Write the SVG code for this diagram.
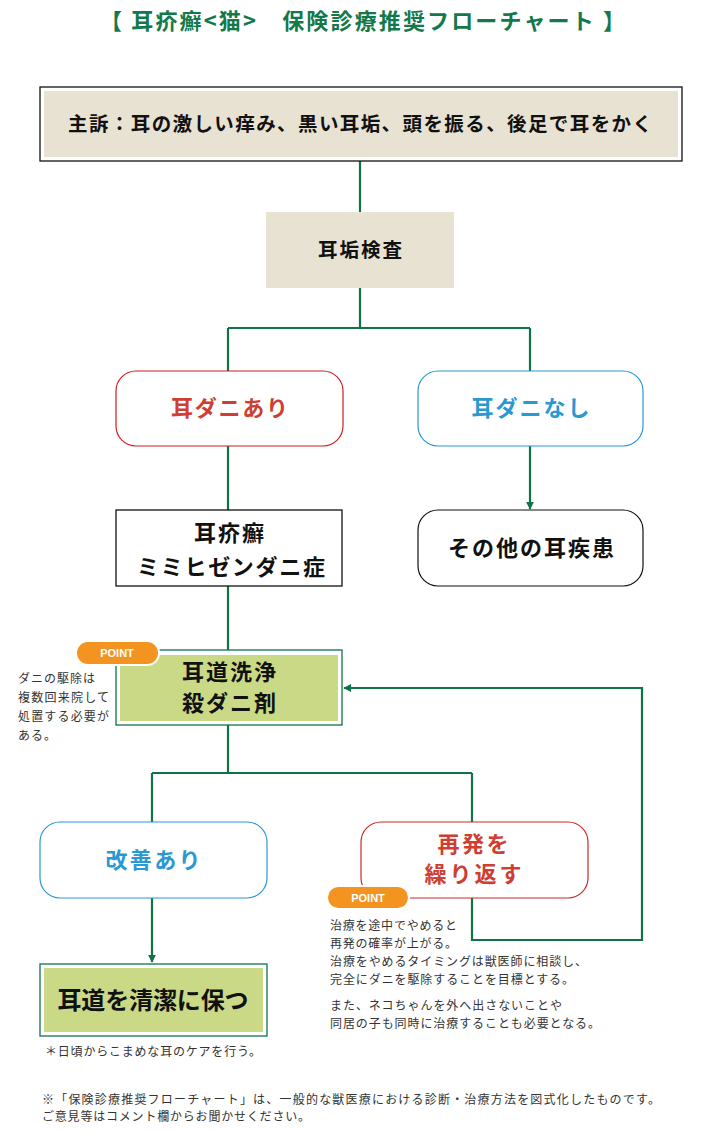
<svg xmlns="http://www.w3.org/2000/svg" width="720" height="1132" viewBox="0 0 720 1132">
<defs>
<marker id="arr" viewBox="0 0 10 10" refX="9" refY="5" markerWidth="8" markerHeight="8" orient="auto" markerUnits="userSpaceOnUse">
<path d="M0,0 L10,5 L0,10 z" fill="#0f7347"/>
</marker>
<style>
text{font-family:"Noto Sans CJK JP","Noto Sans",sans-serif}
.ttl{font-size:22px;font-weight:bold;fill:#13794a}
.bk{font-weight:bold;fill:#111;text-anchor:middle}
.rd{font-weight:bold;fill:#cf3e32;text-anchor:middle;font-size:22px}
.bl{font-weight:bold;fill:#2a98d2;text-anchor:middle;font-size:22px}
.sm{font-size:12px;fill:#333}
.con{fill:none;stroke:#0f7347;stroke-width:2.2}
.pt{fill:#f39320;stroke:#fff;stroke-width:2}
.ptt{font-size:11px;font-weight:bold;fill:#fff;text-anchor:middle;font-family:"Liberation Sans",Arial,sans-serif}
</style>
</defs>
<rect width="720" height="1132" fill="#fff"/>
<text class="ttl" x="100" y="29" textLength="525" lengthAdjust="spacing">【 耳疥癬&lt;猫&gt;　保険診療推奨フローチャート 】</text>

<g id="connectors">
<path class="con" d="M360,161 V212"/>
<path class="con" d="M360,288 V328 M228,328 H530 M228,328 V371 M530,328 V371"/>
<path class="con" d="M228,446 V510"/>
<path class="con" d="M530,446 V509" marker-end="url(#arr)"/>
<path class="con" d="M228,586 V650"/>
<path class="con" d="M228,725 V773 M152,773 H472 M152,773 V822 M472,773 V822"/>
<path class="con" d="M152,898 V962" marker-end="url(#arr)"/>
<path class="con" d="M472,898 V940 H642 V688 H344" marker-end="url(#arr)"/>
</g>

<g id="complaint">
<rect x="40" y="87" width="642" height="74" fill="#fff" stroke="#111" stroke-width="1.3"/>
<rect x="44" y="91" width="634" height="66" fill="#e8e2d3"/>
<text class="bk" x="360" y="131" font-size="19.5" textLength="584" lengthAdjust="spacing">主訴：耳の激しい痒み、黒い耳垢、頭を振る、後足で耳をかく</text>
</g>

<g id="exam">
<rect x="266" y="212" width="188" height="76" fill="#e8e2d3"/>
<text class="bk" x="360" y="257" font-size="19.5" textLength="84" lengthAdjust="spacing">耳垢検査</text>
</g>

<g id="mite-yes">
<rect x="116" y="371" width="227" height="75" rx="20" fill="#fff" stroke="#cc1f1f" stroke-width="1.2"/>
<text class="rd" x="229.5" y="416" textLength="117" lengthAdjust="spacing">耳ダニあり</text>
</g>

<g id="mite-no">
<rect x="418" y="371" width="225" height="75" rx="20" fill="#fff" stroke="#2a98d2" stroke-width="1.2"/>
<text class="bl" x="530.5" y="416" textLength="118" lengthAdjust="spacing">耳ダニなし</text>
</g>

<g id="otodectic">
<rect x="116" y="510" width="226" height="76" fill="#fff" stroke="#111" stroke-width="1.3"/>
<text class="bk" x="229" y="541" font-size="22" textLength="70" lengthAdjust="spacing">耳疥癬</text>
<text class="bk" x="231" y="575" font-size="22" textLength="188" lengthAdjust="spacing">ミミヒゼンダニ症</text>
</g>

<g id="other">
<rect x="418" y="510" width="225" height="76" rx="20" fill="#fff" stroke="#111" stroke-width="1.2"/>
<text class="bk" x="531" y="556" font-size="22" textLength="166" lengthAdjust="spacing">その他の耳疾患</text>
</g>

<g id="cleaning">
<rect x="116" y="650" width="226" height="75" fill="#fff" stroke="#0f7347" stroke-width="1.3"/>
<rect x="120" y="655" width="218" height="66" fill="#c9d986"/>
<text class="bk" x="229" y="680" font-size="22" textLength="94" lengthAdjust="spacing">耳道洗浄</text>
<text class="bk" x="229" y="711" font-size="22" textLength="94" lengthAdjust="spacing">殺ダニ剤</text>
<rect class="pt" x="76" y="641" width="83" height="24" rx="12"/>
<text class="ptt" x="117" y="657">POINT</text>
<text class="sm" x="18" y="683" textLength="77" lengthAdjust="spacing">ダニの駆除は</text>
<text class="sm" x="18" y="702" textLength="91" lengthAdjust="spacing">複数回来院して</text>
<text class="sm" x="18" y="721" textLength="91" lengthAdjust="spacing">処置する必要が</text>
<text class="sm" x="18" y="740" textLength="38" lengthAdjust="spacing">ある。</text>
</g>

<g id="improved">
<rect x="40" y="822" width="227" height="76" rx="20" fill="#fff" stroke="#2a98d2" stroke-width="1.2"/>
<text class="bl" x="153" y="868" textLength="95" lengthAdjust="spacing">改善あり</text>
</g>

<g id="relapse">
<rect x="361" y="822" width="227" height="76" rx="20" fill="#fff" stroke="#cc2a22" stroke-width="1.2"/>
<text class="rd" x="473" y="852" textLength="71" lengthAdjust="spacing">再発を</text>
<text class="rd" x="473" y="882" textLength="97" lengthAdjust="spacing">繰り返す</text>
<rect class="pt" x="327" y="886" width="82" height="23" rx="11.5"/>
<text class="ptt" x="368" y="902">POINT</text>
<text class="sm" x="330" y="930" textLength="127" lengthAdjust="spacing">治療を途中でやめると</text>
<text class="sm" x="330" y="948" textLength="127" lengthAdjust="spacing">再発の確率が上がる。</text>
<text class="sm" x="330" y="966" textLength="257" lengthAdjust="spacing">治療をやめるタイミングは獣医師に相談し、</text>
<text class="sm" x="330" y="984" textLength="244" lengthAdjust="spacing">完全にダニを駆除することを目標とする。</text>
<text class="sm" x="330" y="1010" textLength="232" lengthAdjust="spacing">また、ネコちゃんを外へ出さないことや</text>
<text class="sm" x="330" y="1028" textLength="270" lengthAdjust="spacing">同居の子も同時に治療することも必要となる。</text>
</g>

<g id="keep-clean">
<rect x="40" y="964" width="227" height="72" fill="#fff" stroke="#0f7347" stroke-width="1.3"/>
<rect x="44" y="968" width="219" height="64" fill="#c9d986"/>
<text class="bk" x="153" y="1009" font-size="24" textLength="191" lengthAdjust="spacing">耳道を清潔に保つ</text>
<text class="sm" x="45" y="1056" textLength="216" lengthAdjust="spacing">＊日頃からこまめな耳のケアを行う。</text>
</g>

<g id="footer">
<text class="sm" x="42" y="1104" textLength="618" lengthAdjust="spacing">※「保険診療推奨フローチャート」は、一般的な獣医療における診断・治療方法を図式化したものです。</text>
<text class="sm" x="42" y="1121" textLength="268" lengthAdjust="spacing">ご意見等はコメント欄からお聞かせください。</text>
</g>
</svg>
